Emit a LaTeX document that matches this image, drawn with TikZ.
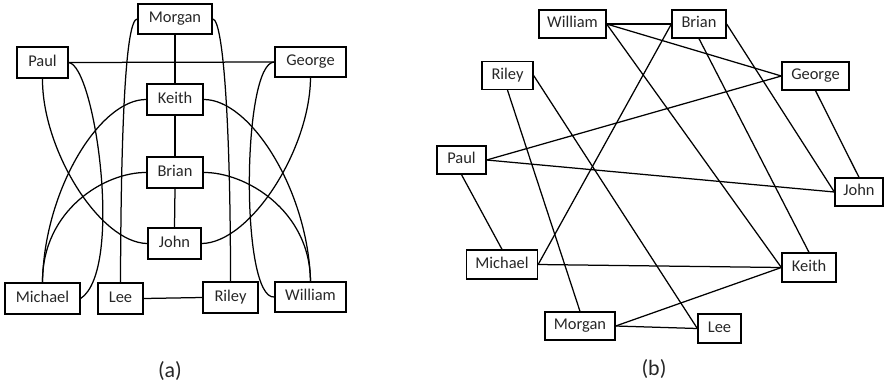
\documentclass[tikz,border=0pt]{standalone}
\usepackage{fontspec}
\setmainfont{Carlito}
\begin{document}
\begin{tikzpicture}[x=1bp,y=-1bp,
  nd/.style={draw, line width=1.3bp, inner sep=0pt, font=\fontsize{16.5}{19}\selectfont,
    text=black!85, text height=11bp, text depth=3.2bp},
  ed/.style={line width=1.25bp},
  lab/.style={font=\fontsize{22}{26}\selectfont, text=black!85}]
\useasboundingbox (0,0) rectangle (884,388);
% ---------- panel (a)
\node[nd, minimum width=74bp, minimum height=30bp] (aMorgan) at (175,19) {Morgan};
\node[nd, minimum width=51bp, minimum height=31bp] (aPaul) at (42.5,62.5) {Paul};
\node[nd, minimum width=71bp, minimum height=30bp] (aGeorge) at (310.5,62) {George};
\node[nd, minimum width=56bp, minimum height=31bp] (aKeith) at (175,99.5) {Keith};
\node[nd, minimum width=56bp, minimum height=31bp] (aBrian) at (175,172.5) {Brian};
\node[nd, minimum width=53bp, minimum height=31bp] (aJohn) at (174.5,243.5) {John};
\node[nd, minimum width=75bp, minimum height=31bp] (aMichael) at (42.5,298.5) {Michael};
\node[nd, minimum width=45bp, minimum height=31bp] (aLee) at (120.5,298.5) {Lee};
\node[nd, minimum width=55bp, minimum height=31bp] (aRiley) at (230.5,297.5) {Riley};
\node[nd, minimum width=71bp, minimum height=30bp] (aWilliam) at (310.5,297) {William};
\node[lab] (alab) at (170,371) {(a)};

\draw[ed] (aMorgan.south) -- (aKeith.north);
\draw[ed] (aKeith.south) -- (aBrian.north);
\draw[ed] (aBrian.south) -- (aJohn.north);
\draw[ed] (aPaul.east) -- (aGeorge.west);
\draw[ed] (aLee.east) -- (aRiley.west);
\draw[ed] (aPaul.east) .. controls (95,65) and (124,270) .. (aMichael.east);
\draw[ed] (aPaul.south) .. controls (42,150) and (100,243) .. (aJohn.west);
\draw[ed] (aMorgan.west) .. controls (126,19) and (121,120) .. (aLee.north);
\draw[ed] (aMorgan.east) .. controls (223,19) and (230.5,120) .. (aRiley.north);
\draw[ed] (aKeith.west) .. controls (100,99) and (44,190) .. (aMichael.north);
\draw[ed] (aBrian.west) .. controls (105,172) and (42,210) .. (aMichael.north);
\draw[ed] (aKeith.east) .. controls (250,99) and (308,190) .. (aWilliam.north);
\draw[ed] (aBrian.east) .. controls (245,172) and (310,210) .. (aWilliam.north);
\draw[ed] (aGeorge.west) .. controls (242,62) and (240,300) .. (aWilliam.west);
\draw[ed] (aGeorge.south) .. controls (310,150) and (250,243) .. (aJohn.east);

% ---------- panel (b)
\node[nd, minimum width=67bp, minimum height=28bp] (bWilliam) at (572.5,24) {William};
\node[nd, minimum width=54bp, minimum height=28bp] (bBrian) at (699,24) {Brian};
\node[nd, minimum width=51bp, minimum height=28bp] (bRiley) at (507.5,75.5) {Riley};
\node[nd, minimum width=67bp, minimum height=28bp] (bGeorge) at (815.5,76) {George};
\node[nd, minimum width=49bp, minimum height=28bp] (bPaul) at (461.5,160) {Paul};
\node[nd, minimum width=48bp, minimum height=28bp] (bJohn) at (859,192) {John};
\node[nd, minimum width=71bp, minimum height=29bp] (bMichael) at (502,264.5) {Michael};
\node[nd, minimum width=54bp, minimum height=29bp] (bKeith) at (809,267.5) {Keith};
\node[nd, minimum width=70bp, minimum height=28bp] (bMorgan) at (580,326) {Morgan};
\node[nd, minimum width=43bp, minimum height=29bp] (bLee) at (719.5,328.5) {Lee};
\node[lab] (blab) at (654,369) {(b)};

\draw[ed] (bWilliam.east) -- (bBrian.west);
\draw[ed] (bWilliam.east) -- (bGeorge.west);
\draw[ed] (bWilliam.east) -- (bKeith.west);
\draw[ed] (bBrian.west) -- (bMichael.east);
\draw[ed] (bBrian.south) -- (bKeith.north);
\draw[ed] (bBrian.east) -- (bJohn.west);
\draw[ed] (bGeorge.south) -- (bJohn.north);
\draw[ed] (bGeorge.west) -- (bPaul.east);
\draw[ed] (bPaul.east) -- (bJohn.west);
\draw[ed] (bPaul.south) -- (bMichael.north);
\draw[ed] (bRiley.south) -- (bMorgan.north);
\draw[ed] (bRiley.east) -- (bLee.west);
\draw[ed] (bMichael.east) -- (bKeith.west);
\draw[ed] (bMorgan.east) -- (bKeith.west);
\draw[ed] (bMorgan.east) -- (bLee.west);
\end{tikzpicture}
\end{document}
